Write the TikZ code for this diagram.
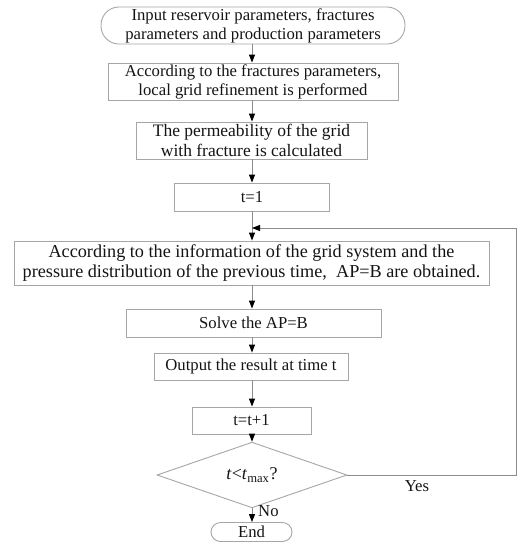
\documentclass[tikz,border=0pt]{standalone}
\usepackage{fontspec}
\setmainfont{Liberation Serif}
\usetikzlibrary{shapes.geometric,arrows.meta}
\definecolor{boxgray}{HTML}{A6A6A6}
\definecolor{linegray}{HTML}{8C8C8C}
\definecolor{txt}{HTML}{141414}
\tikzset{
  box/.style={draw=boxgray, line width=0.9pt, inner sep=0pt, align=center, text=txt,
    font=\fontsize{16.7}{19}\selectfont},
  term/.style={box, rounded corners=18pt},
  dec/.style={box, diamond},
  flow/.style={draw=linegray, line width=0.9pt, -{Triangle[length=8pt,width=6pt,color=black,fill=black]}},
  plain/.style={draw=linegray, line width=0.9pt},
  lbl/.style={inner sep=0pt, text=txt, font=\fontsize{16.7}{19}\selectfont}
}
\begin{document}
\begin{tikzpicture}[x=1pt,y=1pt]
\useasboundingbox (0,0) rectangle (529,-550);
\node[term, minimum width=304pt, minimum height=37pt] (start) at (253,-25.5)
  {Input reservoir parameters, fractures\\parameters and production parameters};
\node[box, minimum width=290pt, minimum height=37pt] (refine) at (253,-81.5)
  {According to the fractures parameters,\\local grid refinement is performed};
\node[box, minimum width=231pt, minimum height=37pt, font=\fontsize{17.5}{19.5}\selectfont] (perm) at (251.5,-140.5)
  {The permeability of the grid\\with fracture is calculated};
\node[box, minimum width=155pt, minimum height=28pt] (t1) at (252,-197)
  {t=1};
\node[box, minimum width=475pt, minimum height=44pt, font=\fontsize{18.2}{20.5}\selectfont] (info) at (251.5,-263)
  {According to the information of the grid system and the\\pressure distribution of the previous time,\ \ AP=B are obtained.};
\node[box, minimum width=255pt, minimum height=28pt] (solve) at (253.5,-323)
  {Solve the AP=B};
\node[box, minimum width=194pt, minimum height=27pt] (out) at (251,-366.5)
  {Output the result at time t};
\node[box, minimum width=119pt, minimum height=27pt] (tinc) at (251.5,-420.5)
  {t=t+1};
\node[dec, minimum width=190pt, minimum height=44pt, font=\fontsize{18}{20}\selectfont] (cond) at (252,-475)
  {\textit{t}<\textit{t}\textsubscript{max}?};
\node[term, minimum width=81pt, minimum height=19pt, rounded corners=9.5pt] (end) at (251.5,-532)
  {End};
\node[lbl] (yes) at (417,-486) {Yes};
\node[lbl, anchor=west] (no) at (258,-511) {No};
\coordinate (merge) at (252,-228);
\coordinate (rdown) at (516,-475);
\coordinate (rup) at (516,-228);
\draw[flow] (start.south -| 252,0) -- (refine.north -| 252,0);
\draw[flow] (refine.south -| 252,0) -- (perm.north -| 252,0);
\draw[flow] (perm.south -| 252,0) -- (t1.north -| 252,0);
\draw[flow] (t1.south -| 252,0) -- (info.north -| 252,0);
\draw[flow] (info.south -| 252,0) -- (solve.north -| 252,0);
\draw[flow] (solve.south -| 252,0) -- (out.north -| 252,0);
\draw[flow] (out.south -| 252,0) -- (tinc.north -| 252,0);
\draw[flow] (tinc.south -| 252,0) -- (cond.north);
\draw[flow] (cond.south) -- (end.north -| 252,0);
\draw[plain] (cond.east) -- (rdown) -- (rup);
\draw[flow] (rup) -- (merge);
\end{tikzpicture}
\end{document}
